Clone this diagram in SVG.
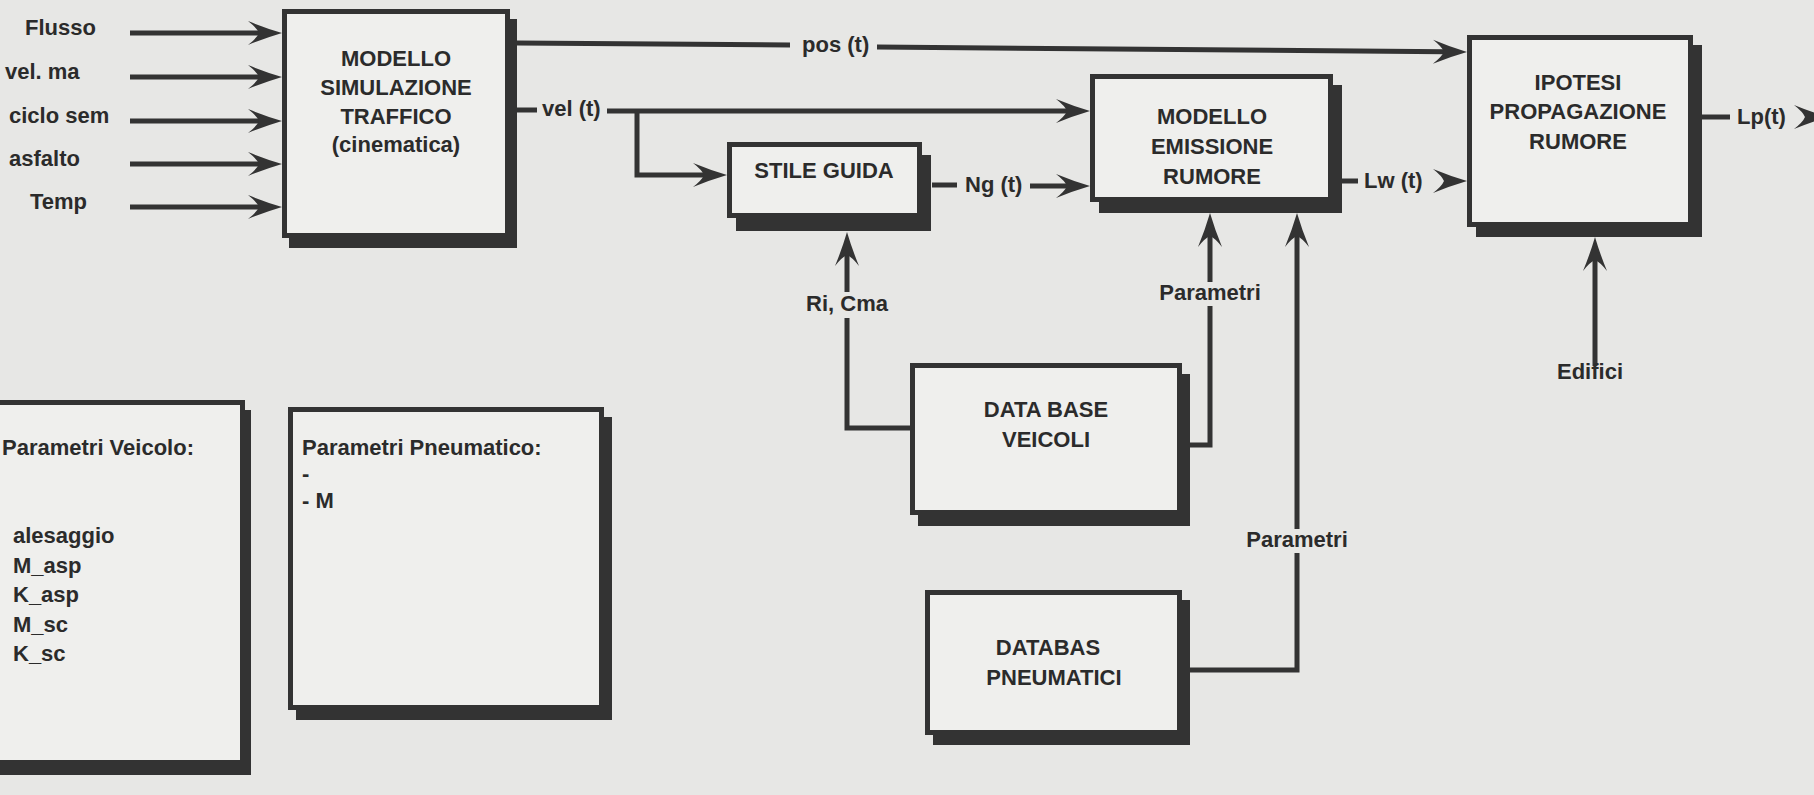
<svg xmlns="http://www.w3.org/2000/svg" width="1814" height="795" viewBox="0 0 1814 795">
<style>
.box{fill:#efefed;stroke:#333;stroke-width:5}
.shadow{fill:#333}
.conn{fill:none;stroke:#333;stroke-width:5}
.ah{fill:#333}
text{font-family:"Liberation Sans",Arial,Helvetica,sans-serif;font-weight:bold;font-size:22px;fill:#2b2b2b}
.c{text-anchor:middle}
</style>
<defs>
<path id="ahp" d="M22,0 Q5,-5 -12,-12 Q-3,-5 -1,0 Q-3,5 -12,12 Q5,5 22,0 Z"/>
<marker id="ah" markerUnits="userSpaceOnUse" viewBox="-13 -13 37 26" markerWidth="37" markerHeight="26" refX="0" refY="0" orient="auto" overflow="visible">
<path d="M22,0 Q5,-5 -12,-12 Q-3,-5 -1,0 Q-3,5 -12,12 Q5,5 22,0 Z" fill="#333"/>
</marker>
</defs>
<rect x="0" y="0" width="1814" height="795" fill="#e7e7e5"/>

<g id="connectors">
<path class="conn" marker-end="url(#ah)" d="M130,33 H260"/>
<path class="conn" marker-end="url(#ah)" d="M130,77 H260"/>
<path class="conn" marker-end="url(#ah)" d="M130,121 H260"/>
<path class="conn" marker-end="url(#ah)" d="M130,164 H260"/>
<path class="conn" marker-end="url(#ah)" d="M130,207 H260"/>
<path class="conn" d="M517,43 L790,45"/>
<path class="conn" marker-end="url(#ah)" d="M877,47 L1445,51.8"/>
<path class="conn" d="M517,110 H537"/>
<path class="conn" marker-end="url(#ah)" d="M607,111 H1068"/>
<path class="conn" marker-end="url(#ah)" d="M637,111 V175 H705"/>
<path class="conn" d="M932,185 H957"/>
<path class="conn" marker-end="url(#ah)" d="M1030,186 H1068"/>
<path class="conn" d="M1342,181 H1358"/>
<use href="#ahp" class="ah" transform="translate(1445,181)"/>
<path class="conn" d="M1702,117 H1730"/>
<use href="#ahp" class="ah" transform="translate(1806,117)"/>
<path class="conn" marker-end="url(#ah)" d="M1595,366 V259"/>
<path class="conn" d="M910,428 H847 V318"/>
<path class="conn" marker-end="url(#ah)" d="M847,292 V254"/>
<path class="conn" d="M1190,445 H1210 V306"/>
<path class="conn" marker-end="url(#ah)" d="M1210,282 V235"/>
<path class="conn" d="M1190,670 H1297 V553"/>
<path class="conn" marker-end="url(#ah)" d="M1297,529 V235"/>
<text x="25" y="35">Flusso</text>
<text x="5" y="79">vel. ma</text>
<text x="9" y="123">ciclo sem</text>
<text x="9" y="166">asfalto</text>
<text x="30" y="209">Temp</text>
<text x="802" y="52">pos (t)</text>
<text x="542" y="116">vel (t)</text>
<text x="965" y="192">Ng (t)</text>
<text x="1364" y="188">Lw (t)</text>
<text x="1737" y="124">Lp(t)</text>
<text class="c" x="847" y="311">Ri, Cma</text>
<text class="c" x="1210" y="300">Parametri</text>
<text class="c" x="1297" y="547">Parametri</text>
<text class="c" x="1590" y="379">Edifici</text>
</g>

<g id="modello-simulazione-traffico">
<rect class="shadow" x="289" y="19" width="228" height="229"/>
<rect class="box" x="284.5" y="11.5" width="223" height="224"/>
<text class="c" x="396" y="66">MODELLO</text>
<text class="c" x="396" y="95">SIMULAZIONE</text>
<text class="c" x="396" y="124">TRAFFICO</text>
<text class="c" x="396" y="152">(cinematica)</text>
</g>

<g id="stile-guida">
<rect class="shadow" x="736" y="155" width="195" height="76"/>
<rect class="box" x="729.5" y="144.5" width="190" height="71"/>
<text class="c" x="824" y="178">STILE GUIDA</text>
</g>

<g id="modello-emissione-rumore">
<rect class="shadow" x="1099" y="85" width="243" height="128"/>
<rect class="box" x="1092.5" y="76.5" width="238" height="123"/>
<text class="c" x="1212" y="124">MODELLO</text>
<text class="c" x="1212" y="154">EMISSIONE</text>
<text class="c" x="1212" y="184">RUMORE</text>
</g>

<g id="ipotesi-propagazione-rumore">
<rect class="shadow" x="1476" y="45" width="226" height="192"/>
<rect class="box" x="1469.5" y="37.5" width="221" height="187"/>
<text class="c" x="1578" y="90">IPOTESI</text>
<text class="c" x="1578" y="119">PROPAGAZIONE</text>
<text class="c" x="1578" y="149">RUMORE</text>
</g>

<g id="data-base-veicoli">
<rect class="shadow" x="918" y="374" width="272" height="152"/>
<rect class="box" x="912.5" y="365.5" width="267" height="147"/>
<text class="c" x="1046" y="417">DATA BASE</text>
<text class="c" x="1046" y="447">VEICOLI</text>
</g>

<g id="databas-pneumatici">
<rect class="shadow" x="933" y="600" width="257" height="145"/>
<rect class="box" x="927.5" y="592.5" width="252" height="140"/>
<text class="c" x="1048" y="655">DATABAS</text>
<text class="c" x="1054" y="685">PNEUMATICI</text>
</g>

<g id="parametri-veicolo">
<rect class="shadow" x="-4" y="410" width="255" height="365"/>
<rect class="box" x="-7.5" y="402.5" width="250" height="360"/>
<text x="2" y="455">Parametri Veicolo:</text>
<text x="13" y="543">alesaggio</text>
<text x="13" y="573">M_asp</text>
<text x="13" y="602">K_asp</text>
<text x="13" y="632">M_sc</text>
<text x="13" y="661">K_sc</text>
</g>

<g id="parametri-pneumatico">
<rect class="shadow" x="296" y="417" width="316" height="303"/>
<rect class="box" x="290.5" y="409.5" width="311" height="298"/>
<text x="302" y="455">Parametri Pneumatico:</text>
<text x="302" y="481">-</text>
<text x="302" y="508">- M</text>
</g>
</svg>
